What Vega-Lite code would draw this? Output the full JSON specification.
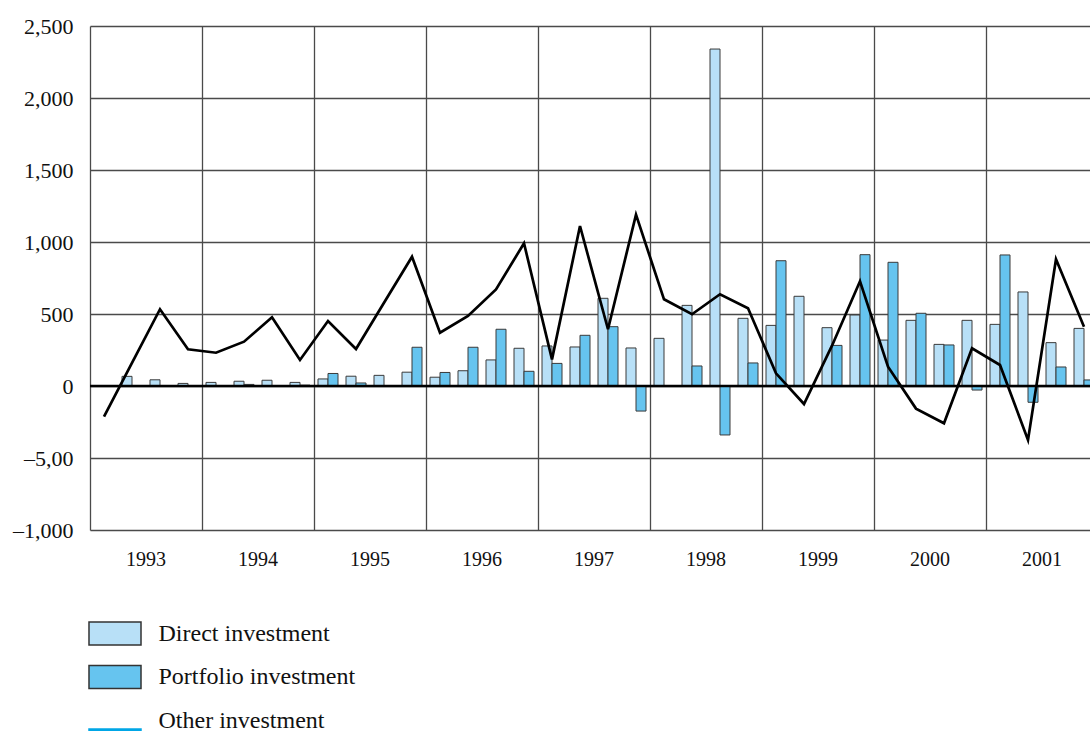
{
 "$schema": "https://vega.github.io/schema/vega-lite/v6.json",
 "autosize": {"type": "none"},
 "padding": {"left": 90, "top": 26, "right": 0, "bottom": 201},
 "width": 1000,
 "height": 504,
 "background": "white",
 "config": {
  "view": {"stroke": null}, "font": "Liberation Serif",
  "legend": {
   "orient": "none", "legendX": 7.5, "legendY": 590, "direction": "vertical",
   "title": null, "padding": 0, "symbolSize": 1089,
   "labelFontSize": 24, "labelFont": "Liberation Serif", "labelColor": "#111111",
   "labelOffset": 26, "rowPadding": 10.5, "labelLimit": 400
  }
 },
 "datasets": {
  "bars": [
   {"quarter": "1993 Q1", "series": "Direct investment", "value": 0},
   {"quarter": "1993 Q2", "series": "Direct investment", "value": 67},
   {"quarter": "1993 Q3", "series": "Direct investment", "value": 43},
   {"quarter": "1993 Q4", "series": "Direct investment", "value": 18},
   {"quarter": "1994 Q1", "series": "Direct investment", "value": 25},
   {"quarter": "1994 Q2", "series": "Direct investment", "value": 33},
   {"quarter": "1994 Q3", "series": "Direct investment", "value": 40},
   {"quarter": "1994 Q4", "series": "Direct investment", "value": 25},
   {"quarter": "1995 Q1", "series": "Direct investment", "value": 49},
   {"quarter": "1995 Q2", "series": "Direct investment", "value": 68},
   {"quarter": "1995 Q3", "series": "Direct investment", "value": 74},
   {"quarter": "1995 Q4", "series": "Direct investment", "value": 96},
   {"quarter": "1996 Q1", "series": "Direct investment", "value": 61},
   {"quarter": "1996 Q2", "series": "Direct investment", "value": 106},
   {"quarter": "1996 Q3", "series": "Direct investment", "value": 181},
   {"quarter": "1996 Q4", "series": "Direct investment", "value": 262},
   {"quarter": "1997 Q1", "series": "Direct investment", "value": 278},
   {"quarter": "1997 Q2", "series": "Direct investment", "value": 271},
   {"quarter": "1997 Q3", "series": "Direct investment", "value": 609},
   {"quarter": "1997 Q4", "series": "Direct investment", "value": 264},
   {"quarter": "1998 Q1", "series": "Direct investment", "value": 331},
   {"quarter": "1998 Q2", "series": "Direct investment", "value": 560},
   {"quarter": "1998 Q3", "series": "Direct investment", "value": 2340},
   {"quarter": "1998 Q4", "series": "Direct investment", "value": 470},
   {"quarter": "1999 Q1", "series": "Direct investment", "value": 421},
   {"quarter": "1999 Q2", "series": "Direct investment", "value": 623},
   {"quarter": "1999 Q3", "series": "Direct investment", "value": 405},
   {"quarter": "1999 Q4", "series": "Direct investment", "value": 493},
   {"quarter": "2000 Q1", "series": "Direct investment", "value": 319},
   {"quarter": "2000 Q2", "series": "Direct investment", "value": 456},
   {"quarter": "2000 Q3", "series": "Direct investment", "value": 289},
   {"quarter": "2000 Q4", "series": "Direct investment", "value": 456},
   {"quarter": "2001 Q1", "series": "Direct investment", "value": 428},
   {"quarter": "2001 Q2", "series": "Direct investment", "value": 653},
   {"quarter": "2001 Q3", "series": "Direct investment", "value": 301},
   {"quarter": "2001 Q4", "series": "Direct investment", "value": 400},
   {"quarter": "1993 Q1", "series": "Portfolio investment", "value": 0},
   {"quarter": "1993 Q2", "series": "Portfolio investment", "value": 0},
   {"quarter": "1993 Q3", "series": "Portfolio investment", "value": 0},
   {"quarter": "1993 Q4", "series": "Portfolio investment", "value": 0},
   {"quarter": "1994 Q1", "series": "Portfolio investment", "value": 0},
   {"quarter": "1994 Q2", "series": "Portfolio investment", "value": 11},
   {"quarter": "1994 Q3", "series": "Portfolio investment", "value": 0},
   {"quarter": "1994 Q4", "series": "Portfolio investment", "value": 6},
   {"quarter": "1995 Q1", "series": "Portfolio investment", "value": 87},
   {"quarter": "1995 Q2", "series": "Portfolio investment", "value": 21},
   {"quarter": "1995 Q3", "series": "Portfolio investment", "value": 3},
   {"quarter": "1995 Q4", "series": "Portfolio investment", "value": 269},
   {"quarter": "1996 Q1", "series": "Portfolio investment", "value": 94},
   {"quarter": "1996 Q2", "series": "Portfolio investment", "value": 269},
   {"quarter": "1996 Q3", "series": "Portfolio investment", "value": 394},
   {"quarter": "1996 Q4", "series": "Portfolio investment", "value": 102},
   {"quarter": "1997 Q1", "series": "Portfolio investment", "value": 157},
   {"quarter": "1997 Q2", "series": "Portfolio investment", "value": 352},
   {"quarter": "1997 Q3", "series": "Portfolio investment", "value": 412},
   {"quarter": "1997 Q4", "series": "Portfolio investment", "value": -174},
   {"quarter": "1998 Q1", "series": "Portfolio investment", "value": 3},
   {"quarter": "1998 Q2", "series": "Portfolio investment", "value": 139},
   {"quarter": "1998 Q3", "series": "Portfolio investment", "value": -340},
   {"quarter": "1998 Q4", "series": "Portfolio investment", "value": 160},
   {"quarter": "1999 Q1", "series": "Portfolio investment", "value": 870},
   {"quarter": "1999 Q2", "series": "Portfolio investment", "value": 0},
   {"quarter": "1999 Q3", "series": "Portfolio investment", "value": 282},
   {"quarter": "1999 Q4", "series": "Portfolio investment", "value": 912},
   {"quarter": "2000 Q1", "series": "Portfolio investment", "value": 859},
   {"quarter": "2000 Q2", "series": "Portfolio investment", "value": 505},
   {"quarter": "2000 Q3", "series": "Portfolio investment", "value": 285},
   {"quarter": "2000 Q4", "series": "Portfolio investment", "value": -28},
   {"quarter": "2001 Q1", "series": "Portfolio investment", "value": 910},
   {"quarter": "2001 Q2", "series": "Portfolio investment", "value": -113},
   {"quarter": "2001 Q3", "series": "Portfolio investment", "value": 132},
   {"quarter": "2001 Q4", "series": "Portfolio investment", "value": 42}
  ],
  "other": [
   {"quarter": "1993 Q1", "value": -213},
   {"quarter": "1993 Q2", "value": 160},
   {"quarter": "1993 Q3", "value": 533},
   {"quarter": "1993 Q4", "value": 255},
   {"quarter": "1994 Q1", "value": 231},
   {"quarter": "1994 Q2", "value": 308},
   {"quarter": "1994 Q3", "value": 477},
   {"quarter": "1994 Q4", "value": 181},
   {"quarter": "1995 Q1", "value": 451},
   {"quarter": "1995 Q2", "value": 257},
   {"quarter": "1995 Q3", "value": 578},
   {"quarter": "1995 Q4", "value": 898},
   {"quarter": "1996 Q1", "value": 370},
   {"quarter": "1996 Q2", "value": 486},
   {"quarter": "1996 Q3", "value": 671},
   {"quarter": "1996 Q4", "value": 991},
   {"quarter": "1997 Q1", "value": 185},
   {"quarter": "1997 Q2", "value": 1111},
   {"quarter": "1997 Q3", "value": 394},
   {"quarter": "1997 Q4", "value": 1190},
   {"quarter": "1998 Q1", "value": 602},
   {"quarter": "1998 Q2", "value": 498},
   {"quarter": "1998 Q3", "value": 637},
   {"quarter": "1998 Q4", "value": 540},
   {"quarter": "1999 Q1", "value": 88},
   {"quarter": "1999 Q2", "value": -125},
   {"quarter": "1999 Q3", "value": 280},
   {"quarter": "1999 Q4", "value": 727},
   {"quarter": "2000 Q1", "value": 134},
   {"quarter": "2000 Q2", "value": -157},
   {"quarter": "2000 Q3", "value": -259},
   {"quarter": "2000 Q4", "value": 262},
   {"quarter": "2001 Q1", "value": 146},
   {"quarter": "2001 Q2", "value": -375},
   {"quarter": "2001 Q3", "value": 880},
   {"quarter": "2001 Q4", "value": 412}
  ],
  "legendkeys": [
   {"series": "Direct investment"},
   {"series": "Portfolio investment"},
   {"series": "Other investment"}
  ]
 },
 "layer": [
  {
   "data": {"name": "legendkeys"},
   "mark": {"type": "point", "filled": true, "opacity": 1},
   "encoding": {
    "y": {"field": "value", "type": "quantitative"},
    "color": {
     "field": "series", "type": "nominal",
     "scale": {"domain": ["Direct investment", "Portfolio investment", "Other investment"], "range": ["#b8e0f7", "#66c4ef", "#00a6e6"]}
    },
    "shape": {
     "field": "series", "type": "nominal",
     "scale": {"domain": ["Direct investment", "Portfolio investment", "Other investment"], "range": ["M-1.576,-0.697H1.576V0.697H-1.576Z", "M-1.576,-0.697H1.576V0.697H-1.576Z", "M-1.576,0.52H1.576V0.66H-1.576Z"]}
    },
    "stroke": {
     "field": "series", "type": "nominal",
     "scale": {"domain": ["Direct investment", "Portfolio investment", "Other investment"], "range": ["#333333", "#333333", "#00a6e6"]}
    }
   }
  },
  {
   "data": {"name": "bars"},
   "mark": {"type": "bar", "stroke": "#3a3a3a", "strokeWidth": 1},
   "encoding": {
    "x": {
     "field": "quarter", "type": "nominal", "sort": null,
     "scale": {
      "domain": ["1993 Q1","1993 Q2","1993 Q3","1993 Q4","1994 Q1","1994 Q2","1994 Q3","1994 Q4","1995 Q1","1995 Q2","1995 Q3","1995 Q4","1996 Q1","1996 Q2","1996 Q3","1996 Q4","1997 Q1","1997 Q2","1997 Q3","1997 Q4","1998 Q1","1998 Q2","1998 Q3","1998 Q4","1999 Q1","1999 Q2","1999 Q3","1999 Q4","2000 Q1","2000 Q2","2000 Q3","2000 Q4","2001 Q1","2001 Q2","2001 Q3","2001 Q4"],
      "range": [0, 1008], "paddingInner": 0, "paddingOuter": 0
     },
     "axis": {
      "values": ["1993 Q1","1994 Q1","1995 Q1","1996 Q1","1997 Q1","1998 Q1","1999 Q1","2000 Q1","2001 Q1"],
      "bandPosition": 0, "grid": true, "gridColor": "#4a4a4a", "gridWidth": 1.3,
      "ticks": false, "domain": false, "labelAngle": 0,
      "labelExpr": "slice(datum.label, 0, 4)", "labelOffset": 42, "labelPadding": 19,
      "labelFontSize": 20, "labelFont": "Liberation Serif", "labelColor": "#111111",
      "labelOverlap": false, "title": null
     }
    },
    "xOffset": {"field": "series", "type": "nominal", "sort": ["Direct investment", "Portfolio investment"], "scale": {"paddingInner": 0, "paddingOuter": 0.4}},
    "y": {
     "field": "value", "type": "quantitative",
     "scale": {"domain": [-1000, 2500], "nice": false, "zero": false},
     "axis": {
      "values": [-1000, -500, 0, 500, 1000, 1500, 2000, 2500],
      "grid": true, "gridColor": "#4a4a4a", "gridWidth": 1.3,
      "ticks": false, "domain": false, "labelPadding": 17,
      "labelFontSize": 22, "labelFont": "Liberation Serif", "labelColor": "#111111",
      "labelExpr": "datum.value == -500 ? '–5,00' : (datum.value == -1000 ? '–1,000' : format(datum.value, ','))",
      "labelOverlap": false, "title": null
     }
    },
    "color": {"field": "series", "type": "nominal"}
   }
  },
  {
   "data": {"values": [{}]},
   "mark": {"type": "rule", "color": "black", "strokeWidth": 2.5},
   "encoding": {"y": {"datum": 0}}
  },
  {
   "data": {"name": "other"},
   "mark": {"type": "line", "color": "black", "strokeWidth": 2.7},
   "encoding": {
    "x": {"field": "quarter", "type": "nominal", "sort": null},
    "y": {"field": "value", "type": "quantitative"}
   }
  }
 ]
}
